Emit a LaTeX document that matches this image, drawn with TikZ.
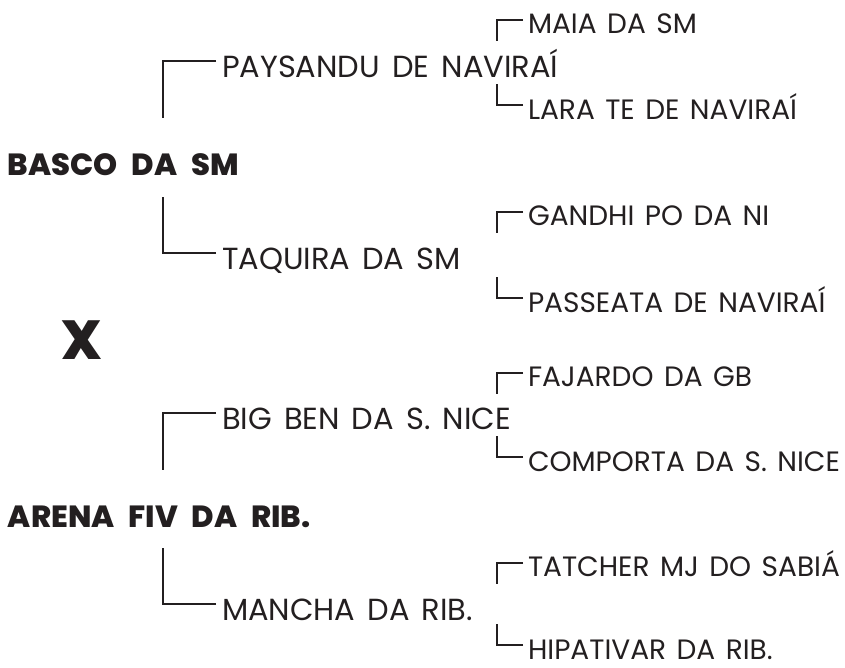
\documentclass[tikz,border=0pt]{standalone}
\usepackage{fontspec}
\setmainfont{Poppins}
\newfontfamily\namefont{Poppins}
\newfontfamily\boldfont{Poppins}[UprightFont=* ExtraBold]
\definecolor{ink}{HTML}{231F20}
\newcommand\widespace[1]{\spaceskip=\dimexpr\fontdimen2\font+#1\relax}
\tikzset{
  x=1pt, y=-1pt,
  lbl/.style={inner sep=0pt, outer sep=0pt, anchor=base west, text=ink},
  child/.style={lbl, font=\namefont\fontsize{30.5}{30.5}\selectfont\widespace{4pt}},
  grand/.style={lbl, font=\namefont\fontsize{28}{28}\selectfont\widespace{3pt}},
  team/.style={lbl, font=\boldfont\fontsize{30.6}{30.6}\selectfont\widespace{8pt}},
  versus/.style={lbl, font=\boldfont\fontsize{55}{55}\selectfont},
  brk/.style={draw=ink, line width=1.9pt, line cap=butt, line join=miter}
}
\begin{document}
\begin{tikzpicture}
\useasboundingbox (0,0) rectangle (845,667);
% block 1
\node[team]  (p1) at (8,175) {BASCO DA SM};
\node[child] (c1) at (222,77) {PAYSANDU DE NAVIRAÍ};
\node[child] (c2) at (222,269) {TAQUIRA DA SM};
\node[grand] (g1) at (528,33) {MAIA DA SM};
\node[grand] (g2) at (528,119) {LARA TE DE NAVIRAÍ};
\node[grand] (g3) at (528,225) {GANDHI PO DA NI};
\node[grand] (g4) at (528,312) {PASSEATA DE NAVIRAÍ};
% versus
\node[versus] (vs) at (61,359) {X};
% block 2
\node[team]  (p2) at (8,527) {ARENA FIV DA RIB.};
\node[child] (c3) at (222,429) {BIG BEN DA S. NICE};
\node[child] (c4) at (222,620) {MANCHA DA RIB.};
\node[grand] (g5) at (528,386) {FAJARDO DA GB};
\node[grand] (g6) at (528,471) {COMPORTA DA S. NICE};
\node[grand] (g7) at (528,576) {TATCHER MJ DO SABIÁ};
\node[grand] (g8) at (528,659) {HIPATIVAR DA RIB.};
% child brackets (upper: line then down; lower: up then line)
\foreach \c in {c1,c3}
  \draw[brk] ([shift={(-6,-16)}]\c.base west) -- ++(-53,0) -- ++(0,57);
\foreach \c in {c2,c4}
  \draw[brk] ([shift={(-6,-16)}]\c.base west) -- ++(-53,0) -- ++(0,-56);
% grandchild brackets
\foreach \g in {g1,g3,g5,g7}
  \draw[brk] ([shift={(-5,-13)}]\g.base west) -- ++(-26,0) -- ++(0,21);
\foreach \g in {g2,g4,g6,g8}
  \draw[brk] ([shift={(-5,-14)}]\g.base west) -- ++(-26,0) -- ++(0,-21);
\end{tikzpicture}
\end{document}
